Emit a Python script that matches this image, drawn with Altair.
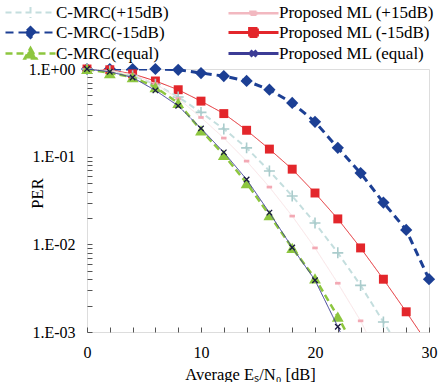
import altair as alt
import pandas as pd

# ---------------- data ----------------
x_db = [0, 2, 4, 6, 8, 10, 12, 14, 16, 18, 20, 22, 24, 26, 28, 30]

names = ["C-MRC(+15dB)", "C-MRC(-15dB)", "C-MRC(equal)",
         "Proposed ML (+15dB)", "Proposed ML (-15dB)", "Proposed ML (equal)"]

cmrc_p15 = [1, 0.95, 0.84, 0.67, 0.48, 0.32, 0.207, 0.126, 0.0687, 0.0356,
            0.0175, 0.0080, 0.0034, 0.0013, 0.0005, None]
ml_p15 = [1, 0.96, 0.86, 0.68, 0.46, 0.28, 0.163, 0.089, 0.045, 0.021,
          0.0091, 0.0036, 0.00134, 0.0004, None, None]
cmrc_m15 = [1, 1, 1, 1, 0.98, 0.90, 0.83, 0.73, 0.58, 0.41,
            0.25, 0.126, 0.065, 0.030, 0.0146, 0.0040]
ml_m15 = [1, 0.98, 0.88, 0.73, 0.58, 0.43, 0.31, 0.20, 0.122, 0.072,
          0.0385, 0.0195, 0.0091, 0.0040, 0.0017, 0.0007]
cmrc_eq = [1, 0.90, 0.81, 0.62, 0.41, 0.20, 0.105, 0.050, 0.0216, 0.0091,
           0.0041, 0.0015, 0.0005, None, None, None]
ml_eq = [1, 0.93, 0.80, 0.57, 0.38, 0.21, 0.112, 0.055, 0.023, 0.0092,
         0.0039, 0.00115, 0.0003, None, None, None]

series_values = {
    "C-MRC(+15dB)": cmrc_p15,
    "Proposed ML (+15dB)": ml_p15,
    "C-MRC(-15dB)": cmrc_m15,
    "Proposed ML (-15dB)": ml_m15,
    "C-MRC(equal)": cmrc_eq,
    "Proposed ML (equal)": ml_eq,
}

x_tick_values = list(range(0, 31, 2))
y_major = [1, 0.1, 0.01, 0.001]
y_labels = ["1.E+00", "1.E-01", "1.E-02", "1.E-03"]
y_minor = [m * d for d in (0.1, 0.01, 0.001) for m in range(2, 10)]

rows = []
for name, vals in series_values.items():
    for xv, yv in zip(x_db, vals):
        if yv is not None:
            rows.append({"x": xv, "per": yv, "series": name})
df = pd.DataFrame(rows)

# ---------------- styles ----------------
PLUS = "M0,-1V1M-1,0H1"
XMARK = "M-1,-1L1,1M-1,1L1,-1"
DASH = "M-1,-0.5H1V0.5H-1Z"
style = {
    "C-MRC(-15dB)": dict(color="#1c3f94", dash=[8, 5], width=3,
                         shape="diamond", size=150, filled=True, mcolor="#1c3f94", mw=1),
    "Proposed ML (-15dB)": dict(color="#e3262b", dash=[1, 0], width=1,
                                shape="square", size=80, filled=True, mcolor="#e3262b", mw=1),
    "C-MRC(+15dB)": dict(color="#c4dede", dash=[6, 4], width=2,
                         shape=PLUS, size=120, filled=False, mcolor="#aacccc", mw=1.6),
    "Proposed ML (+15dB)": dict(color="#fae4e6", dash=[1, 0], width=1,
                                shape=DASH, size=30, filled=True, mcolor="#f3a9b4", mw=0.5),
    "C-MRC(equal)": dict(color="#8dc63f", dash=[7, 4], width=2.5,
                         shape="triangle-up", size=140, filled=True, mcolor="#8dc63f", mw=1),
    "Proposed ML (equal)": dict(color="#3c3c96", dash=[1, 0], width=1,
                                shape=XMARK, size=30, filled=False, mcolor="#1a1a40", mw=1.3),
}
draw_order = ["C-MRC(-15dB)", "Proposed ML (-15dB)", "C-MRC(+15dB)",
              "Proposed ML (+15dB)", "C-MRC(equal)", "Proposed ML (equal)"]

legend_paths = {
    "C-MRC(+15dB)": "M-5,0H5M0,-1.1V1.1",
    "C-MRC(-15dB)": "M-5,0H5M0,-1.1L1.1,0L0,1.1L-1.1,0Z",
    "C-MRC(equal)": "M-5,0H5M0,-1.1L1.2,1L-1.2,1Z",
    "Proposed ML (+15dB)": "M-5,0H5M-0.6,-0.3H0.6V0.3H-0.6Z",
    "Proposed ML (-15dB)": "M-5,0H5M-0.8,-0.8H0.8V0.8H-0.8Z",
    "Proposed ML (equal)": "M-5,0H5M-0.6,-0.6L0.6,0.6M-0.6,0.6L0.6,-0.6",
}
legend_widths = {
    "C-MRC(+15dB)": 2, "C-MRC(-15dB)": 3, "C-MRC(equal)": 2.5,
    "Proposed ML (+15dB)": 1, "Proposed ML (-15dB)": 1.5, "Proposed ML (equal)": 1,
}

SERIF = "Liberation Serif"

label_expr = "".join(
    f"datum.value == {v} ? '{l}' : " for v, l in zip(y_major, y_labels)) + "''"

x_scale = alt.Scale(domain=[0, 30], nice=False, zero=False)
y_scale = alt.Scale(type="log", domain=[0.001, 1], nice=False)

x_axis = alt.Axis(values=x_tick_values,
                  labelExpr="datum.value % 10 == 0 ? datum.label : ''",
                  offset=-5, tickSize=5, domain=False, grid=False,
                  tickColor="#555", labelColor="black", labelFont=SERIF,
                  labelFontSize=16, labelPadding=12, labelFlush=False,
                  labelOverlap=False,
                  title="Average Eₛ/N₀ [dB]", titleFont=SERIF,
                  titleFontSize=16.5, titleFontWeight="normal",
                  titleColor="black", titleX=163, titleY=47,
                  titleBaseline="middle")
y_axis = alt.Axis(values=y_major + y_minor, labelExpr=label_expr,
                  offset=-5, tickSize=5, domain=False, grid=False,
                  tickColor="#555", labelColor="black", labelFont=SERIF,
                  labelFontSize=16, labelPadding=12, labelFlush=False,
                  labelOverlap=False,
                  title="PER", titleFont=SERIF, titleFontSize=16.5,
                  titleFontWeight="normal", titleColor="black",
                  titleX=-55, titleY=124, titleBaseline="middle")

layers = []
for name in draw_order:
    s = style[name]
    sub = alt.Chart(df).transform_filter(alt.datum.series == name)
    enc = dict(x=alt.X("x:Q", scale=x_scale, axis=x_axis),
               y=alt.Y("per:Q", scale=y_scale, axis=y_axis))
    layers.append(sub.mark_line(color=s["color"], strokeDash=s["dash"],
                                strokeWidth=s["width"], clip=True).encode(**enc))
    pts = sub.transform_filter(alt.datum.per >= 0.001)
    m = pts.mark_point(shape=s["shape"], size=s["size"], filled=s["filled"],
                       color=s["mcolor"], opacity=1, strokeWidth=s["mw"])
    layers.append(m.encode(**enc))

legend = alt.Legend(title=None, orient="none", legendX=-90, legendY=-65,
                    columns=2, columnPadding=51, rowPadding=0, padding=0,
                    symbolSize=100, symbolOffset=25, labelOffset=17,
                    labelFont=SERIF, labelFontSize=17, labelColor="black",
                    labelLimit=300)
lg_dom = names
leg = alt.Chart(df).transform_filter("false").mark_point(
    filled=True, opacity=1).encode(
    shape=alt.Shape("series:N", legend=legend,
                    scale=alt.Scale(domain=lg_dom, range=[legend_paths[n] for n in lg_dom])),
    fill=alt.Fill("series:N", legend=legend,
                  scale=alt.Scale(domain=lg_dom, range=[style[n]["mcolor"] for n in lg_dom])),
    stroke=alt.Stroke("series:N", legend=legend,
                      scale=alt.Scale(domain=lg_dom, range=[style[n]["color"] if n != "Proposed ML (+15dB)" else "#f2b8c0" for n in lg_dom])),
    strokeDash=alt.StrokeDash("series:N", legend=legend,
                              scale=alt.Scale(domain=lg_dom, range=[style[n]["dash"] for n in lg_dom])),
    strokeWidth=alt.StrokeWidth("series:N", legend=legend,
                                scale=alt.Scale(domain=lg_dom, range=[legend_widths[n] for n in lg_dom])),
)
layers.append(leg)

chart = alt.layer(*layers).properties(
    width=342, height=263,
    autosize=alt.AutoSizeParams(type="none"),
    padding={"left": 87, "top": 69, "right": 15, "bottom": 50},
).configure_view(stroke="#222", strokeWidth=2).configure(background="white")

chart.save("out.html", embed_options={"renderer": "svg", "actions": False})
